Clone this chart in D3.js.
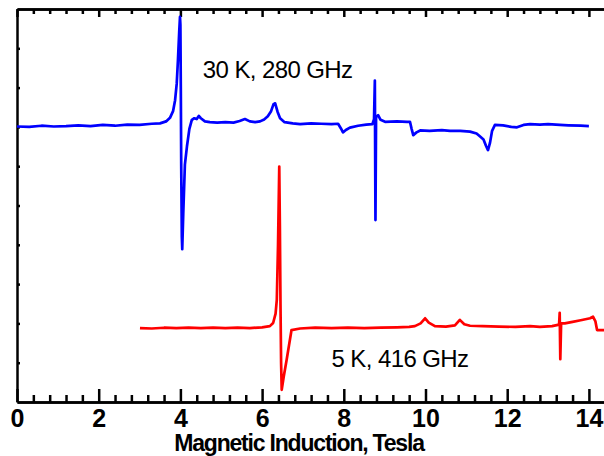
<!DOCTYPE html>
<html>
<head>
<meta charset="utf-8">
<script src="https://cdn.jsdelivr.net/npm/d3@7"></script>
<style>
  html, body { margin: 0; padding: 0; background: #fff; }
  svg { display: block; }
  .axis path, .axis line { stroke: #000; stroke-width: 2.5; }
  .axis text { font-family: Arial, "Liberation Sans", sans-serif; font-weight: bold; font-size: 25px; fill: #000; }
</style>
</head>
<body>
<div id="chart"></div>
<script>
// field (Tesla) and intensity (arb. units)
const blueX = [0.00,0.30,0.60,0.90,1.20,1.50,1.80,2.10,2.40,2.70,3.00,3.30,3.50,3.65,3.745,3.82,3.87,3.91,3.94,3.97,3.99,4.00,4.01,4.02,4.035,4.045,4.07,4.11,4.16,4.22,4.28,4.34,4.40,4.45,4.50,4.60,4.72,4.90,5.10,5.30,5.45,5.58,5.70,5.83,5.95,6.05,6.14,6.22,6.28,6.32,6.38,6.44,6.55,6.75,6.93,7.20,7.45,7.70,7.86,7.93,7.98,8.05,8.15,8.35,8.55,8.70,8.74,8.76,8.775,8.79,8.84,8.90,9.01,9.30,9.55,9.62,9.66,9.70,9.78,9.87,10.10,10.40,10.60,10.85,11.09,11.25,11.33,11.42,11.48,11.53,11.58,11.63,11.70,11.90,12.10,12.24,12.40,12.56,12.80,13.00,13.29,13.50,13.80,14.00];
const blueY = [7.01,7.00,7.03,7.01,7.02,7.04,7.02,7.05,7.03,7.06,7.05,7.08,7.09,7.14,7.23,7.40,7.68,8.10,8.70,9.40,9.80,9.60,8.00,6.00,4.20,3.89,4.80,6.04,6.50,6.95,7.18,7.22,7.20,7.28,7.22,7.14,7.12,7.11,7.12,7.11,7.15,7.20,7.14,7.12,7.14,7.19,7.27,7.40,7.58,7.60,7.38,7.22,7.12,7.09,7.07,7.09,7.08,7.07,7.08,6.96,6.86,6.92,6.98,7.03,7.06,7.07,7.20,8.18,4.63,7.25,7.30,7.18,7.13,7.14,7.13,7.13,6.95,6.79,6.86,6.91,6.90,6.92,6.90,6.90,6.88,6.83,6.76,6.68,6.52,6.41,6.60,6.90,7.05,7.04,7.00,6.99,7.05,7.07,7.06,7.07,7.05,7.04,7.03,7.02];

const redX = [3.01,3.30,3.60,3.90,4.20,4.50,4.80,5.10,5.40,5.70,6.00,6.19,6.27,6.33,6.36,6.39,6.42,6.435,6.45,6.465,6.48,6.53,6.60,6.66,6.72,6.93,7.30,7.70,8.10,8.50,8.90,9.30,9.60,9.74,9.88,9.99,10.08,10.23,10.50,10.72,10.84,10.95,11.09,11.40,11.80,12.20,12.56,12.80,13.10,13.27,13.285,13.30,13.32,13.41,13.60,13.80,14.03,14.10,14.16,14.20,14.37];
const redY = [1.88,1.87,1.89,1.88,1.89,1.88,1.89,1.88,1.89,1.88,1.90,1.93,2.01,2.25,2.60,4.00,5.99,4.50,2.50,1.00,0.31,0.65,1.07,1.45,1.83,1.87,1.89,1.88,1.89,1.88,1.89,1.90,1.91,1.93,2.00,2.13,2.02,1.93,1.92,1.95,2.09,1.98,1.94,1.93,1.92,1.91,1.93,1.91,1.93,1.97,2.27,1.09,2.00,2.00,2.04,2.08,2.13,2.17,2.05,1.83,1.83];

const majorTicks = [0, 2, 4, 6, 8, 10, 12, 14];
const labels = [
  { text: "30 K, 280 GHz", x: 4.55, y: 8.25 },
  { text: "5 K, 416 GHz", x: 7.7, y: 0.9 }
];

const width = 604, height = 456;
const plotLeft = 17, plotTop = 9, plotBottom = 402;

const svg = d3.select("#chart").append("svg")
  .attr("width", width)
  .attr("height", height);

const x = d3.scaleLinear().domain([0, 14.4]).range([plotLeft, plotLeft + 14.4 * 40.85]);
const y = d3.scaleLinear().domain([0, 10]).range([plotBottom, plotTop]);

const minorTicks = d3.range(0, 14.41, 0.4).filter(v => Math.abs(v / 2 - Math.round(v / 2)) > 0.01);

// bottom axis, ticks pointing in
svg.append("g").attr("class", "axis")
  .attr("transform", `translate(0,${plotBottom})`)
  .call(d3.axisBottom(x).tickValues(minorTicks).tickSize(-7).tickSizeOuter(0).tickFormat(""));
svg.append("g").attr("class", "axis")
  .attr("transform", `translate(0,${plotBottom})`)
  .call(d3.axisBottom(x).tickValues(majorTicks).tickSize(-13).tickSizeOuter(0).tickPadding(7).tickFormat(d3.format("d")))
  .call(g => g.selectAll("text").attr("dy", "0.72em"));

// top axis
svg.append("g").attr("class", "axis")
  .attr("transform", `translate(0,${plotTop})`)
  .call(d3.axisTop(x).tickValues(minorTicks).tickSize(-5).tickSizeOuter(0).tickFormat(""));
svg.append("g").attr("class", "axis")
  .attr("transform", `translate(0,${plotTop})`)
  .call(d3.axisTop(x).tickValues(majorTicks).tickSize(-8).tickSizeOuter(0).tickFormat(""));

// left axis, no labels
svg.append("g").attr("class", "axis")
  .attr("transform", `translate(${plotLeft},0)`)
  .call(d3.axisLeft(y).tickValues(d3.range(1, 10)).tickSize(-3).tickSizeOuter(0).tickFormat(""));

const line = d3.line()
  .x(d => x(d[0]))
  .y(d => y(d[1]));

svg.append("path")
  .datum(blueX.map((v, i) => [v, blueY[i]]))
  .attr("d", line)
  .attr("fill", "none")
  .attr("stroke", "#0000ff")
  .attr("stroke-width", 2.7)
  .attr("stroke-linejoin", "round");

svg.append("path")
  .datum(redX.map((v, i) => [v, redY[i]]))
  .attr("d", line)
  .attr("fill", "none")
  .attr("stroke", "#ff0000")
  .attr("stroke-width", 2.7)
  .attr("stroke-linejoin", "round");

svg.selectAll(".note")
  .data(labels)
  .enter().append("text")
  .attr("class", "note")
  .attr("x", d => x(d.x))
  .attr("y", d => y(d.y))
  .attr("font-family", "Arial, 'Liberation Sans', sans-serif")
  .attr("font-size", 24)
  .attr("letter-spacing", -0.6)
  .text(d => d.text);

svg.append("text")
  .attr("x", 299)
  .attr("y", 451)
  .attr("text-anchor", "middle")
  .attr("font-family", "Arial, 'Liberation Sans', sans-serif")
  .attr("font-weight", "bold")
  .attr("font-size", 23)
  .attr("letter-spacing", -1.2)
  .text("Magnetic Induction, Tesla");
</script>
</body>
</html>
